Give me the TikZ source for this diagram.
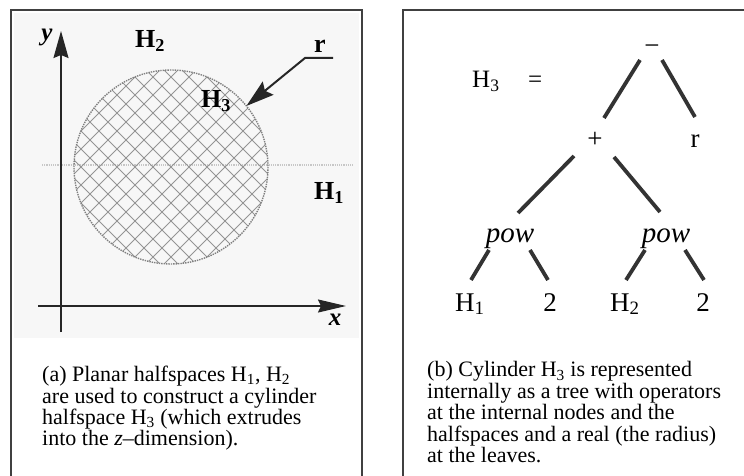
\documentclass[tikz,border=0pt]{standalone}
\usepackage{fontspec}
\setmainfont{Liberation Serif}
\usetikzlibrary{arrows.meta}
\begin{document}
\begin{tikzpicture}[x=1pt,y=-1pt,
  frame/.style={draw=black!75,line width=1.5pt},
  axis/.style={draw=black!85,line width=1.6pt},
  hatch/.style={draw=black!42,line width=0.8pt},
  treeedge/.style={draw=black!80,line width=3.8pt},
  biglbl/.style={font=\fontsize{26}{28}\selectfont\bfseries,inner sep=0pt},
  axlbl/.style={font=\fontsize{25}{27}\selectfont\bfseries\itshape,inner sep=0pt},
  tnode/.style={font=\fontsize{27}{29}\selectfont,inner sep=0pt,anchor=base},
  pownode/.style={font=\fontsize{29}{31}\selectfont\itshape,inner sep=0pt,anchor=base},
  captext/.style={font=\fontsize{22}{21.4}\selectfont,align=left,inner sep=0pt,anchor=north west},
]
\useasboundingbox (0,0) rectangle (744,476);
\fill[white] (0,0) rectangle (744,476);
% light stipple background of the plot area
\fill[black!3] (14,13) rectangle (359,338);
% frames
\draw[frame] (11,480) -- (11,10) -- (362,10) -- (362,480);
\draw[frame] (403,480) -- (403,10) -- (750,10);

% ---------- panel (a) ----------
% boundary of H1 (faint)
\draw[black!22,line width=1.2pt,densely dotted] (42,165) -- (354,165);
% cylinder H3
\node[circle,minimum size=194pt,inner sep=0pt,outer sep=0pt] (cyl) at (171,167) {};
\begin{scope}
  \clip (171,167) circle (97);
  \foreach \k in {-14,...,14} {
    \draw[hatch] (171+\k*18-130,37) -- ++(260,260);
    \draw[hatch] (171+\k*18-130,297) -- ++(260,-260);
  }
\end{scope}
\draw[black!50,line width=1.4pt,densely dotted] (cyl) circle (97);
% axes
\coordinate (ybot) at (61,332);
\coordinate (ytop) at (61,31);
\coordinate (xleft) at (38,306);
\coordinate (xright) at (346,306);
\draw[axis,-{Stealth[length=27pt,width=15pt,inset=3pt]}] (ybot) -- (ytop);
\draw[axis,-{Stealth[length=28pt,width=13pt,inset=3pt]}] (xleft) -- (xright);
\node[axlbl] (ylab) at (47,37) {y};
\node[axlbl] (xlab) at (335,320) {x};
% labels
\node[biglbl] (H2lab) at (150,41) {H\textsubscript{2}};
\node[biglbl] (H3lab) at (216,101) {H\textsubscript{3}};
\node[biglbl] (H1lab) at (329,193) {H\textsubscript{1}};
\node[biglbl] (rlab) at (320,46) {r};
\coordinate (rend) at (333,58);
\coordinate (rbend) at (305,58);
\draw[draw=black!85,line width=2pt,-{Stealth[length=28pt,width=17pt,inset=4pt]}]
  (rend) -- (rbend) -- (cyl.39);
% caption (a)
\node[captext] (capa) at (42,366) {(a) Planar halfspaces H\textsubscript{1}, H\textsubscript{2}\\
are used to construct a cylinder\\
halfspace H\textsubscript{3} (which extrudes\\
into the \textit{z}–dimension).};

% ---------- panel (b) ----------
\node[font=\fontsize{25}{27}\selectfont,inner sep=0pt,anchor=base west] (H3eq) at (472,88) {H\textsubscript{3}};
\node[font=\fontsize{25}{27}\selectfont,inner sep=0pt,anchor=base west] (eq) at (528,88) {=};
\node[tnode] (minus) at (652,55) {−};
\node[tnode] (plus) at (595,147) {+};
\node[tnode] (r) at (695,147) {r};
\node[pownode] (pow1) at (510,242) {pow};
\node[pownode] (pow2) at (666,242) {pow};
\node[tnode,anchor=base west] (h1) at (455,311) {H\textsubscript{1}};
\node[tnode] (two1) at (550,311) {2};
\node[tnode,anchor=base west] (h2) at (610,311) {H\textsubscript{2}};
\node[tnode] (two2) at (703,311) {2};
\draw[treeedge] ([shift={(-12,5)}]minus.base) -- ([shift={(9,-29)}]plus.base);
\draw[treeedge] ([shift={(10,5)}]minus.base) -- ([shift={(0,-30)}]r.base);
\draw[treeedge] ([shift={(-21,9)}]plus.base) -- ([shift={(8,-29)}]pow1.base);
\draw[treeedge] ([shift={(19,10)}]plus.base) -- ([shift={(-6,-30)}]pow2.base);
\draw[treeedge] ([shift={(-21,8)}]pow1.base) -- ([shift={(16,-31)}]h1.base west);
\draw[treeedge] ([shift={(20,8)}]pow1.base) -- ([shift={(-2,-31)}]two1.base);
\draw[treeedge] ([shift={(-21,8)}]pow2.base) -- ([shift={(16,-31)}]h2.base west);
\draw[treeedge] ([shift={(19,8)}]pow2.base) -- ([shift={(1,-31)}]two2.base);
% caption (b)
\node[captext] (capb) at (427,361.5) {(b) Cylinder H\textsubscript{3} is represented\\
internally as a tree with operators\\
at the internal nodes and the\\
halfspaces and a real (the radius)\\
at the leaves.};
\end{tikzpicture}
\end{document}
